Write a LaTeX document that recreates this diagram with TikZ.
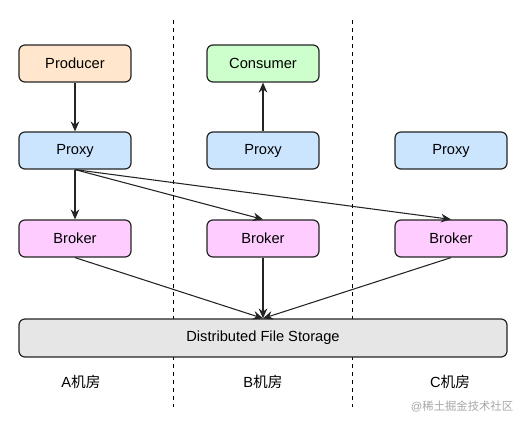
\documentclass[tikz,border=0pt]{standalone}
\usepackage{fontspec}
\setmainfont{Liberation Sans}
\newfontfamily\cjk{Noto Sans CJK SC}
\usetikzlibrary{arrows.meta}
\definecolor{prodfill}{RGB}{255,230,204}
\definecolor{consfill}{RGB}{204,255,204}
\definecolor{proxyfill}{RGB}{204,229,255}
\definecolor{brokerfill}{RGB}{255,204,255}
\definecolor{storefill}{RGB}{230,230,230}
\definecolor{edgecol}{RGB}{36,36,36}
\tikzset{
  roombox/.style={draw=edgecol,line width=0.9pt,rounded corners=4.5pt,minimum width=84pt,minimum height=27.75pt,inner sep=0pt,font=\fontsize{11}{13}\selectfont},
  flow/.style={-{Stealth[length=7.5pt,width=6.5pt]},line width=0.8pt,draw=edgecol},
  roomline/.style={dash pattern={on 3pt off 3pt},line width=0.75pt}
}
\begin{document}
\begin{tikzpicture}[x=0.75pt,y=0.75pt,yscale=-1,xscale=1]
\useasboundingbox (0,0) rectangle (523,425);
% room borders
\draw [roomline] (173,20) -- (173,407);
\draw [roomline] (352,20) -- (352,407);
% boxes
\node [roombox,fill=prodfill] (producer) at (75,63.5) {Producer};
\node [roombox,fill=consfill] (consumer) at (263,63.5) {Consumer};
\node [roombox,fill=proxyfill] (proxya) at (75,150.5) {Proxy};
\node [roombox,fill=proxyfill] (proxyb) at (263,150.5) {Proxy};
\node [roombox,fill=proxyfill] (proxyc) at (451,150.5) {Proxy};
\node [roombox,fill=brokerfill] (brokera) at (75,238.5) {Broker};
\node [roombox,fill=brokerfill] (brokerb) at (263,238.5) {Broker};
\node [roombox,fill=brokerfill] (brokerc) at (451,238.5) {Broker};
\node [roombox,fill=storefill,minimum width=366pt,minimum height=28.5pt] (storage) at (263,338) {Distributed File Storage};
% arrows
\draw [flow] (producer) -- (proxya);
\draw [flow] (proxyb) -- (consumer);
\draw [flow] (proxya.south) -- (brokera.north);
\draw [flow] (proxya.south) -- (brokerb.north);
\draw [flow] (proxya.south) -- (brokerc.north);
\draw [flow] (brokera.south) -- (storage.north);
\draw [flow] (brokerb.south) -- (storage.north);
\draw [flow] (brokerc.south) -- (storage.north);
% room names
\node [font=\fontsize{11}{13}\selectfont] (rooma) at (81,382) {A\cjk 机房};
\node [font=\fontsize{11}{13}\selectfont] (roomb) at (263,382) {B\cjk 机房};
\node [font=\fontsize{11}{13}\selectfont] (roomc) at (450,382) {C\cjk 机房};
\node [font=\fontsize{8.5}{10}\selectfont,text=black!35] (mark) at (462,406) {@\cjk 稀土掘金技术社区};
\end{tikzpicture}
\end{document}
